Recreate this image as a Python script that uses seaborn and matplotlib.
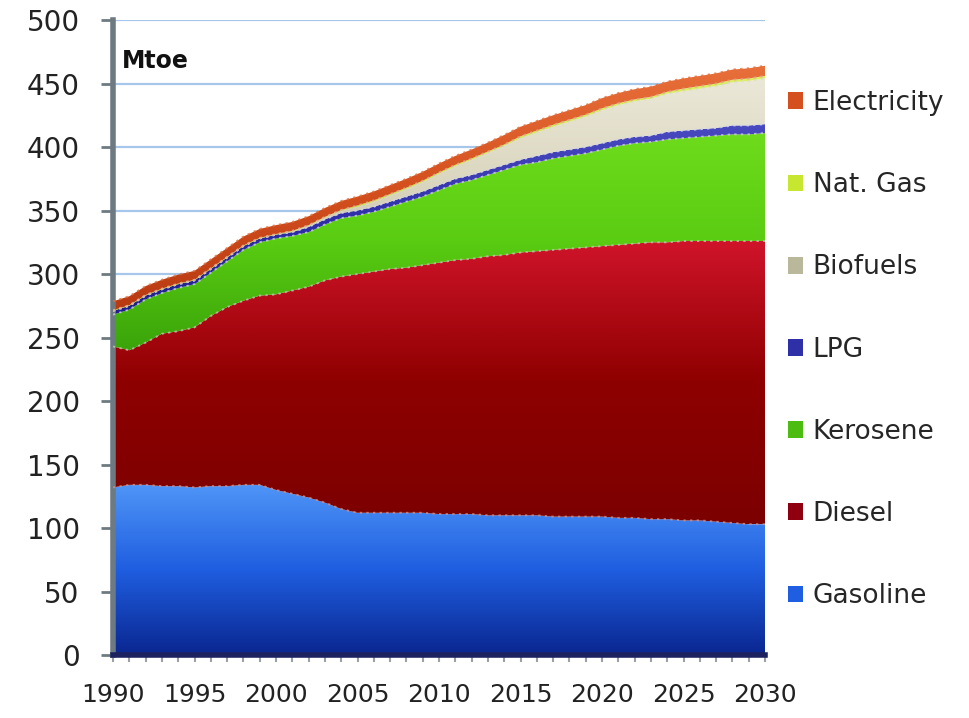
import numpy as np
import matplotlib
matplotlib.use('Agg')
import matplotlib.pyplot as plt
from matplotlib.colors import LinearSegmentedColormap
from matplotlib.patches import Patch
import seaborn as sns

# Transport energy demand by fuel, Mtoe
years = list(range(1990, 2031))

gasoline = [132, 134, 134, 133, 133, 132, 133, 133, 134, 134,
            130, 127, 124, 120, 115, 112, 112, 112, 112, 112,
            111, 111, 111, 110, 110, 110, 110, 109, 109, 109,
            109, 108, 108, 107, 107, 106, 106, 105, 104, 103,
            103]
diesel = [111, 106, 112, 120, 122, 126, 134, 141, 145, 149,
          154, 160, 166, 175, 183, 188, 190, 192, 193, 195,
          198, 200, 201, 204, 205, 207, 208, 210, 211, 212,
          213, 215, 216, 218, 218, 220, 220, 221, 222, 223,
          223]
kerosene = [25, 32, 34, 32, 34, 34, 34, 36, 40, 42,
            44, 43, 43, 44, 46, 46, 47, 49, 52, 54,
            57, 60, 62, 64, 67, 69, 70, 72, 73, 74,
            76, 78, 79, 79, 81, 81, 82, 83, 84, 84,
            85]
lpg = [3, 3, 3, 3, 3, 3, 3, 3, 3, 3,
       3, 3, 4, 4, 4, 4, 4, 4, 4, 4,
       4, 4, 4, 4, 4, 4, 5, 5, 5, 5,
       5, 5, 5, 5, 6, 6, 6, 6, 7, 7,
       7]
biofuels = [0, 0, 0, 0, 0, 0, 0, 0, 0, 0,
            0, 0.5, 1, 1.5, 2, 3, 4, 5, 6, 7.5,
            9, 10, 12, 13.5, 15, 17, 18.5, 20, 22, 24,
            26, 27, 28, 29, 30, 31, 32, 33, 34, 35,
            36]
nat_gas = [0.5, 0.5, 0.5, 0.5, 0.5, 0.5, 0.5, 0.5, 0.5, 0.5,
           0.5, 0.5, 0.5, 0.5, 0.5, 1, 1, 1, 1, 1,
           1, 1, 1, 1, 1, 1.5, 1.5, 1.5, 1.5, 1.5,
           1.5, 1.5, 1.5, 1.5, 1.5, 2, 2, 2, 2, 2,
           2]
electricity = [7, 7, 7, 7, 7, 7, 7, 7, 7, 7,
               7, 7, 7, 7, 7, 7, 7, 7, 7, 7,
               7, 7, 7, 7, 7.5, 7.5, 7.5, 7.5, 7.5, 7.5,
               8, 8, 8, 8, 8, 8, 8, 8, 8, 8,
               8]

labels = ['Gasoline', 'Diesel', 'Kerosene', 'LPG', 'Biofuels', 'Nat. Gas', 'Electricity']
series = [gasoline, diesel, kerosene, lpg, biofuels, nat_gas, electricity]

# gradient stops (bottom -> top) and a flat colour for the legend
gradients = [
    ['#0a2690', '#1f5ee0', '#4f95f7'],
    ['#7c0000', '#8e0000', '#d0142a'],
    ['#3aa40a', '#5acc12', '#6edc1c'],
    ['#1e1e8c', '#2f2fa8', '#4a4ac0'],
    ['#b8b496', '#d8d4bc', '#ebe8d8'],
    ['#a8cc10', '#c6e630', '#dcf060'],
    ['#b83a12', '#d4501e', '#e8703a'],
]
legend_colors = ['#1f5ee0', '#8e0010', '#4cbc10', '#2f2fa8', '#b9b89a', '#c6e630', '#d4501e']

sns.set_style('white')
plt.rcParams['font.family'] = ['DejaVu Sans']

fig = plt.figure(figsize=(9.7, 7.18), dpi=100)
ax = fig.add_axes([0.1165, 0.0877, 0.6722, 0.8844])

polys = ax.stackplot(years, *series, colors=legend_colors, linewidth=0, zorder=2)

# vertical gradient fill for each band, clipped to its polygon
for poly, stops in zip(polys, gradients):
    path = poly.get_paths()[0]
    ys = path.vertices[:, 1]
    cmap = LinearSegmentedColormap.from_list('band', stops)
    grad = np.linspace(0, 1, 256).reshape(-1, 1)
    im = ax.imshow(grad, cmap=cmap, origin='lower', aspect='auto',
                   extent=[years[0], years[-1], ys.min(), ys.max()],
                   zorder=2, interpolation='bilinear')
    im.set_clip_path(path, ax.transData)
    poly.set_facecolor('none')

# light dotted seams between bands, like the bevelled edges in the original
tops = np.cumsum(np.array(series, dtype=float), axis=0)
seam_colors = ['#c89090', '#b8c8a8', '#c8ccd8', '#d8d8e8', '#e0dcc8', '#e8a080', '#e07040']
for top, c in zip(tops, seam_colors):
    ax.plot(years, top, color=c, linewidth=1.4, linestyle=(0, (1.2, 2.2)),
            zorder=3, alpha=0.8)

ax.set_xlim(1990, 2030)
ax.set_ylim(0, 500)
ax.set_aspect('auto')

ax.set_yticks(range(0, 501, 50))
ax.set_xticks(range(1990, 2031, 5))
ax.set_xticks(years, minor=True)
ax.yaxis.grid(True, color='#a6c6ea', linewidth=1.6)
ax.xaxis.grid(False)
ax.set_axisbelow(True)

sns.despine(ax=ax, top=True, right=True)
ax.spines['left'].set_color('#6e7a82')
ax.spines['left'].set_linewidth(4)
ax.spines['bottom'].set_color('#1c2260')
ax.spines['bottom'].set_linewidth(4)

ax.tick_params(axis='y', length=9, width=2, color='#6e7a82', pad=15,
               labelsize=20, labelcolor='#222222', left=True)
ax.tick_params(axis='x', which='both', length=5, width=1.5, color='#9aa0a8',
               pad=15, labelsize=18, labelcolor='#222222', bottom=True)

ax.text(0.014, 0.955, 'Mtoe', transform=ax.transAxes, fontsize=17,
        fontweight='bold', va='top', ha='left', color='#111111')

handles = [Patch(facecolor=c, edgecolor='none') for c in legend_colors]
fig.legend(handles[::-1], labels[::-1], loc='center left',
           bbox_to_anchor=(0.812, 0.513), frameon=False, fontsize=19,
           handlelength=0.6, handleheight=0.6, handletextpad=0.35,
           labelspacing=2.13, borderpad=0, borderaxespad=0)

plt.savefig('out.png', dpi=100)
